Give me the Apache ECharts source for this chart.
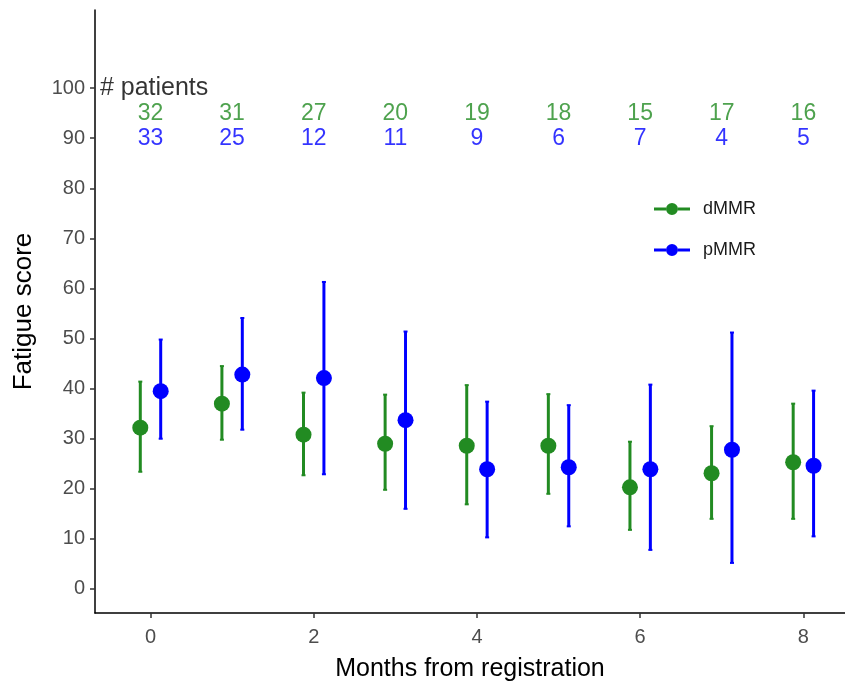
<!DOCTYPE html>
<html>
<head>
<meta charset="utf-8">
<script src="https://cdn.jsdelivr.net/npm/echarts@6/dist/echarts.min.js"></script>
<style>
html,body{margin:0;padding:0;background:#fff;}
#chart{width:845px;height:689px;}
</style>
</head>
<body>
<div id="chart"></div>
<script>
// ---- data ----
var months = [0, 1, 2, 3, 4, 5, 6, 7, 8];
var dmmrMean  = [32.2, 37.0, 30.8, 29.0, 28.6, 28.6, 20.3, 23.1, 25.3];
var dmmrLower = [23.4, 29.8, 22.7, 19.8, 16.9, 19.0, 11.8, 14.0, 14.0];
var dmmrUpper = [41.4, 44.5, 39.2, 38.8, 40.7, 38.9, 29.4, 32.5, 37.0];
var pmmrMean  = [39.5, 42.8, 42.1, 33.7, 23.9, 24.3, 23.9, 27.8, 24.6];
var pmmrLower = [30.0, 31.8, 22.9, 16.0, 10.3, 12.5, 7.8, 5.2, 10.5];
var pmmrUpper = [49.8, 54.1, 61.3, 51.4, 37.4, 36.7, 40.8, 51.2, 39.6];
var dmmrCount = [32, 31, 27, 20, 19, 18, 15, 17, 16];
var pmmrCount = [33, 25, 12, 11, 9, 6, 7, 4, 5];
var yTicks = [0, 10, 20, 30, 40, 50, 60, 70, 80, 90, 100];
var xTicks = [0, 2, 4, 6, 8];
var groupNames = ['dMMR', 'pMMR'];
var headerText = '# patients';

var GREEN = '#228B22', BLUE = '#0000FF';
var dodge = 0.125;
var FONT = 'Liberation Sans, Arial, sans-serif';

function barData(lo, hi, off) {
  return months.map(function (m, i) { return [m + off, lo[i], hi[i]]; });
}
function ptData(mean, off) {
  return months.map(function (m, i) { return [m + off, mean[i]]; });
}
function renderBar(color) {
  return function (params, api) {
    var x = api.value(0);
    var p1 = api.coord([x, api.value(1)]);
    var p2 = api.coord([x, api.value(2)]);
    var cw = 2;
    var st = { stroke: color, lineWidth: 3 };
    return {
      type: 'group',
      children: [
        { type: 'line', shape: { x1: p1[0], y1: p1[1], x2: p2[0], y2: p2[1] }, style: st },
        { type: 'line', shape: { x1: p1[0] - cw, y1: p1[1], x2: p1[0] + cw, y2: p1[1] }, style: { stroke: color, lineWidth: 2 } },
        { type: 'line', shape: { x1: p2[0] - cw, y1: p2[1], x2: p2[0] + cw, y2: p2[1] }, style: { stroke: color, lineWidth: 2 } }
      ]
    };
  };
}
function countLabels(counts, y, color) {
  return {
    type: 'scatter', silent: true, symbolSize: 0,
    data: months.map(function (m, i) { return [m, y, counts[i]]; }),
    label: {
      show: true, position: 'inside', formatter: function (p) { return String(p.value[2]); },
      color: color, fontSize: 23, fontFamily: FONT
    },
    z: 5
  };
}
var legendIcon = 'path://M0,8.5H12V11.5H0Z M24,8.5H36V11.5H24Z M12,10A6,6 0 1,1 24,10A6,6 0 1,1 12,10Z';

var chart = echarts.init(document.getElementById('chart'), null, { renderer: 'canvas' });
chart.setOption({
  backgroundColor: '#ffffff',
  animation: false,
  textStyle: { fontFamily: FONT },
  grid: { left: 95, right: 0, top: 10, bottom: 76, containLabel: false },
  legend: {
    orient: 'vertical', left: 649, top: 195,
    itemWidth: 36, itemHeight: 20, itemGap: 23,
    textStyle: { fontSize: 18, color: '#1a1a1a', fontFamily: FONT, padding: [0, 0, 0, 8] },
    data: [
      { name: groupNames[0], icon: legendIcon, itemStyle: { color: GREEN } },
      { name: groupNames[1], icon: legendIcon, itemStyle: { color: BLUE } }
    ]
  },
  xAxis: {
    type: 'value', min: -0.68, max: 8.51,
    name: 'Months from registration', nameLocation: 'middle', nameGap: 44,
    nameTextStyle: { fontSize: 25, color: '#000', fontFamily: FONT },
    axisLine: { show: true, onZero: false, lineStyle: { color: '#000', width: 1.5 } },
    axisTick: { show: true, customValues: xTicks, length: 5, lineStyle: { color: '#333', width: 1.5 } },
    axisLabel: { customValues: xTicks, fontSize: 20, color: '#4D4D4D', margin: 14, fontFamily: FONT },
    splitLine: { show: false }
  },
  yAxis: {
    type: 'value', min: -4.8, max: 115.6,
    name: 'Fatigue score', nameLocation: 'middle', nameGap: 58, nameRotate: 90,
    nameTextStyle: { fontSize: 26, color: '#000', fontFamily: FONT },
    axisLine: { show: true, onZero: false, lineStyle: { color: '#000', width: 1.5 } },
    axisTick: { show: true, customValues: yTicks, length: 5, lineStyle: { color: '#333', width: 1.5 } },
    axisLabel: { customValues: yTicks, fontSize: 20, color: '#4D4D4D', margin: 10, fontFamily: FONT },
    splitLine: { show: false }
  },
  series: [
    { name: groupNames[0], type: 'custom', renderItem: renderBar(GREEN), data: barData(dmmrLower, dmmrUpper, -dodge), encode: { x: 0, y: [1, 2] }, z: 2 },
    { name: groupNames[1], type: 'custom', renderItem: renderBar(BLUE), data: barData(pmmrLower, pmmrUpper, dodge), encode: { x: 0, y: [1, 2] }, z: 2 },
    { name: groupNames[0], type: 'scatter', symbol: 'circle', symbolSize: 16, itemStyle: { color: GREEN, opacity: 1 }, data: ptData(dmmrMean, -dodge), z: 3 },
    { name: groupNames[1], type: 'scatter', symbol: 'circle', symbolSize: 16, itemStyle: { color: BLUE, opacity: 1 }, data: ptData(pmmrMean, dodge), z: 3 },
    countLabels(dmmrCount, 95, GREEN),
    countLabels(pmmrCount, 90, BLUE),
    {
      type: 'scatter', silent: true, symbolSize: 0,
      data: [[-0.62, 100]],
      label: { show: true, position: 'right', distance: 0, formatter: headerText, color: '#000', fontSize: 25, fontFamily: FONT },
      z: 5
    }
  ]
});
</script>
</body>
</html>
